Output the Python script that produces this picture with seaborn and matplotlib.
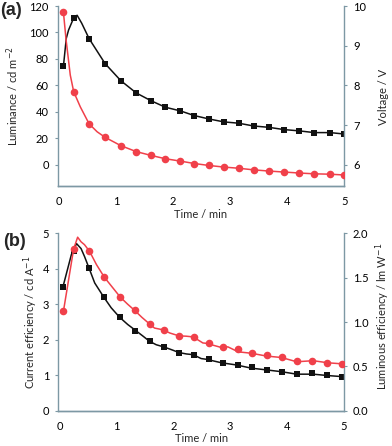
import matplotlib
matplotlib.use("Agg")
import matplotlib.pyplot as plt
import seaborn as sns

sns.set_theme(style="white")
plt.rcParams['font.family'] = ['Lato', 'DejaVu Sans']

# ---------------- data ----------------
# (a) luminance (left axis) and voltage (right axis)
t_a_lum_line = [0.08, 0.13, 0.17, 0.26, 0.32, 0.40, 0.53, 0.81, 1.085, 1.355, 1.61, 1.865, 2.13,
                2.37, 2.63, 2.89, 3.15, 3.41, 3.675, 3.94, 4.21, 4.47, 4.75, 5.0]
lum_line = [74.3, 95.5, 101.8, 111, 113, 107, 95.3, 76.4, 63.5, 54.2, 48.4, 43.4, 40.6,
            37.1, 34.5, 32.3, 31.3, 29.2, 28.2, 26.5, 25.5, 24.2, 24.2, 23.1]
t_a_volt_line = [0.08, 0.125, 0.2, 0.26, 0.375, 0.53, 0.67, 0.81, 1.085, 1.355, 1.61, 1.865, 2.13,
                 2.37, 2.63, 2.89, 3.15, 3.41, 3.675, 3.94, 4.21, 4.47, 4.75, 5.0]
volt_line = [9.85, 9.17, 8.26, 7.84, 7.46, 7.03, 6.83, 6.69, 6.48, 6.33, 6.235, 6.15, 6.09,
             6.03, 5.98, 5.94, 5.91, 5.87, 5.84, 5.815, 5.79, 5.77, 5.76, 5.74]
t_a_marks = [0.08, 0.26, 0.53, 0.81, 1.085, 1.355, 1.61, 1.865, 2.13, 2.37, 2.63, 2.89, 3.15,
             3.41, 3.675, 3.94, 4.21, 4.47, 4.75, 5.0]
lum_marks = [74.3, 111, 95.3, 76.4, 63.5, 54.2, 48.4, 43.4, 40.6, 37.1, 34.5, 32.3, 31.3,
             29.2, 28.2, 26.5, 25.5, 24.2, 24.2, 23.1]
volt_marks = [9.85, 7.84, 7.03, 6.69, 6.48, 6.33, 6.235, 6.15, 6.09, 6.03, 5.98, 5.94, 5.91,
              5.87, 5.84, 5.815, 5.79, 5.77, 5.76, 5.74]

# (b) current efficiency (left axis) and luminous efficiency (right axis)
t_b_ce_line = [0.06, 0.21, 0.30, 0.38, 0.44, 0.52, 0.62, 0.78, 0.91, 1.06, 1.2, 1.34, 1.47, 1.58,
               1.7, 1.83, 1.97, 2.1, 2.23, 2.35, 2.49, 2.58, 2.85, 3.11, 3.37, 3.64, 3.9, 4.17,
               4.46, 4.72, 4.98]
ce_line = [3.48, 4.40, 4.71, 4.57, 4.35, 4.02, 3.6, 3.2, 2.9, 2.63, 2.43, 2.26, 2.1, 1.96,
           1.86, 1.8, 1.72, 1.64, 1.6, 1.58, 1.47, 1.45, 1.35, 1.29, 1.2, 1.15, 1.1, 1.03,
           1.03, 0.99, 0.96]
t_b_le_line = [0.07, 0.25, 0.32, 0.38, 0.44, 0.53, 0.65, 0.79, 0.94, 1.07, 1.2, 1.32, 1.45, 1.58,
               1.67, 1.82, 1.94, 2.1, 2.23, 2.35, 2.52, 2.58, 2.85, 2.96, 3.14, 3.37, 3.64, 3.9,
               4.17, 4.46, 4.72, 4.98]
le_line = [1.12, 1.824, 1.956, 1.904, 1.872, 1.796, 1.648, 1.504, 1.384, 1.28, 1.2, 1.132,
           1.052, 0.98, 0.932, 0.912, 0.876, 0.844, 0.84, 0.832, 0.764, 0.76, 0.712, 0.72,
           0.664, 0.648, 0.616, 0.6, 0.552, 0.564, 0.54, 0.528]
t_b_marks = [0.07, 0.25, 0.52, 0.79, 1.07, 1.33, 1.59, 1.84, 2.1, 2.36, 2.62, 2.87, 3.13, 3.38,
             3.65, 3.91, 4.17, 4.44, 4.71, 4.97]
ce_marks = [3.48, 4.5, 4.02, 3.2, 2.63, 2.26, 1.96, 1.8, 1.64, 1.58, 1.45, 1.35, 1.28, 1.23,
            1.15, 1.1, 1.04, 1.05, 1.0, 0.96]
le_marks = [1.12, 1.824, 1.796, 1.504, 1.28, 1.132, 0.98, 0.912, 0.844, 0.832, 0.762, 0.72,
            0.694, 0.649, 0.626, 0.604, 0.558, 0.566, 0.543, 0.528]

x_ticks = [0, 1, 2, 3, 4, 5]
lum_ticks = [0, 20, 40, 60, 80, 100, 120]
volt_ticks = [6, 7, 8, 9, 10]
ce_ticks = [0, 1, 2, 3, 4, 5]
le_ticks = [0.0, 0.5, 1.0, 1.5, 2.0]

# ---------------- style ----------------
SPINE = '#7d98a4'
BLACK = '#111111'
RED = '#f0404a'
FS = 8

fig = plt.figure(figsize=(3.92, 4.46), dpi=100)
ax_a = fig.add_axes([0.1472, 0.5836, 0.7314, 0.4029])
ax_b = fig.add_axes([0.1487, 0.0791, 0.7288, 0.3978])


def style(ax, side):
    for s in ['top', 'left', 'right', 'bottom']:
        ax.spines[s].set_visible(False)
    ax.spines[side].set_visible(True)
    ax.spines[side].set_color(SPINE)
    ax.spines[side].set_linewidth(1.0)
    ax.spines['bottom'].set_visible(True)
    ax.spines['bottom'].set_color(SPINE)
    ax.spines['bottom'].set_linewidth(1.0)
    ax.tick_params(axis='both', direction='out', length=2.5, width=0.8, color=SPINE,
                   labelsize=FS, labelcolor='black', pad=4)
    ax.tick_params(axis='x', pad=5)
    ax.grid(False)
    ax.set_facecolor('none')


def panel(ax, tl1, yl1, tm, ym1, tl2, yl2, ym2, ylim1, ylim2, t1, t2, lab1, lab2,
          c1x, c2x, c2y, xly, tag, tagxy):
    ax2 = ax.twinx()
    sns.lineplot(x=tl1, y=yl1, ax=ax, color=BLACK, linewidth=1.1, estimator=None, sort=False)
    sns.scatterplot(x=tm, y=ym1, ax=ax, color=BLACK, marker='s', s=22, linewidth=0, zorder=3)
    sns.lineplot(x=tl2, y=yl2, ax=ax2, color=RED, linewidth=1.1, estimator=None, sort=False)
    sns.scatterplot(x=tm, y=ym2, ax=ax2, color=RED, marker='o', s=30, linewidth=0, zorder=3)
    style(ax, 'left')
    style(ax2, 'right')
    ax.set_xlim(-0.02, 5.0)
    ax2.set_xlim(-0.02, 5.0)
    ax.set_ylim(*ylim1)
    ax2.set_ylim(*ylim2)
    ax.set_xticks(x_ticks)
    ax.set_xticklabels([str(v) for v in x_ticks])
    ax.set_yticks(t1)
    ax2.set_yticks(t2)
    ax.set_ylabel(lab1, fontsize=FS, va='center', ha='center')
    ax2.set_ylabel(lab2, fontsize=FS, rotation=90, va='center', ha='center')
    ax.yaxis.set_label_coords(c1x, 0.5)
    ax2.yaxis.set_label_coords(c2x, c2y)
    ax.set_xlabel('Time / min', fontsize=FS, va='center')
    ax.xaxis.set_label_coords(0.5, xly)
    fig.text(tagxy[0], tagxy[1], tag, fontsize=13, fontweight='bold', ha='left', va='top',
             family=['Liberation Sans', 'DejaVu Sans'])
    return ax2


panel(ax_a, t_a_lum_line, lum_line, t_a_marks, lum_marks, t_a_volt_line, volt_line, volt_marks,
      (-16, 120), (5.47, 10), lum_ticks, volt_ticks,
      'Luminance / cd m$^{-2}$', 'Voltage / V', -0.156, 1.138, 0.495, -0.158,
      '(a)', (0.0, 0.995))
ax_b2 = panel(ax_b, t_b_ce_line, ce_line, t_b_marks, ce_marks, t_b_le_line, le_line, le_marks,
              (0, 5), (0, 2), ce_ticks, le_ticks,
              'Current efficiency / cd A$^{-1}$', 'Luminous efficiency / lm W$^{-1}$',
              -0.096, 1.136, 0.53, -0.154, '(b)', (0.008, 0.478))
ax_b.set_yticklabels([str(v) for v in ce_ticks])
ax_b2.set_yticklabels(['%.1f' % v for v in le_ticks])

fig.savefig('out.png', dpi=100)
